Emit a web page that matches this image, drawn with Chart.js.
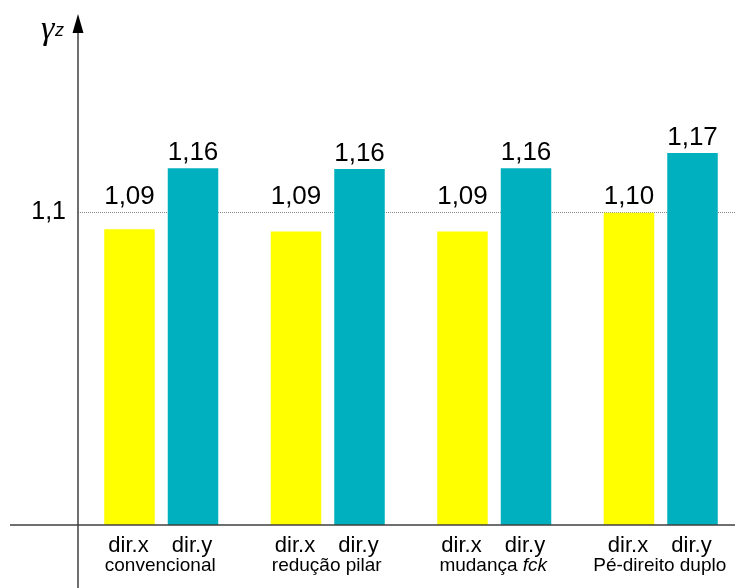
<!DOCTYPE html>
<html lang="pt-BR">
<head>
<meta charset="utf-8">
<title>gama z</title>
<script src="https://cdn.jsdelivr.net/npm/chart.js@4.4.1/dist/chart.umd.min.js"></script>
<style>
  html, body { margin: 0; padding: 0; background: #fff; overflow: hidden; }
  #wrap { width: 745px; height: 588px; }
</style>
</head>
<body>
<div id="wrap"><canvas id="grafico" width="745" height="588"></canvas></div>
<script>
const categorias = ['convencional', 'redução pilar', 'mudança', 'Pé-direito duplo'];
const categoriasItalico = ['', '', 'fck', ''];
const series = ['dir.x', 'dir.y'];
const valoresX = [1.079, 1.076, 1.076, 1.0995];
const valoresY = [1.155, 1.154, 1.155, 1.174];
const rotulosX = ['1,09', '1,09', '1,09', '1,10'];
const rotulosY = ['1,16', '1,16', '1,16', '1,17'];
const linhaRef = 1.1;
const rotuloRef = '1,1';

const FONTE = "'Liberation Sans', Arial, sans-serif";
const rotulos = [rotulosX, rotulosY];

// eixos com seta, rótulos das barras e das categorias
const desenhos = {
    id: 'desenhos',
    afterDatasetsDraw(chart) {
        const { ctx, chartArea, scales } = chart;
        const yRef = scales.y.getPixelForValue(linhaRef);
        const base = chartArea.bottom;
        const eixoX = chartArea.left;

        ctx.save();
        ctx.fillStyle = '#000';
        ctx.textBaseline = 'alphabetic';
        ctx.textAlign = 'center';

        chart.data.datasets.forEach((ds, i) => {
            chart.getDatasetMeta(i).data.forEach((bar, j) => {
                ctx.font = '26px ' + FONTE;
                ctx.fillText(rotulos[i][j], bar.x, Math.min(bar.y, yRef) - 8);
                ctx.font = '22px ' + FONTE;
                ctx.fillText(series[i], bar.x - 1, base + 27);
            });
        });

        // nomes das categorias (segunda linha)
        categorias.forEach((nome, j) => {
            const cx = scales.x.getPixelForValue(j) - 1;
            const ital = categoriasItalico[j];
            ctx.font = '19px ' + FONTE;
            const txt = ital ? nome + ' ' : nome;
            const w1 = ctx.measureText(txt).width;
            ctx.font = 'italic 19px ' + FONTE;
            const w2 = ital ? ctx.measureText(ital).width : 0;
            const x0 = cx - (w1 + w2) / 2;
            ctx.textAlign = 'left';
            ctx.font = '19px ' + FONTE;
            ctx.fillText(txt, x0, base + 46);
            if (ital) {
                ctx.font = 'italic 19px ' + FONTE;
                ctx.fillText(ital, x0 + w1, base + 46);
            }
        });

        // eixos
        ctx.strokeStyle = '#404040';
        ctx.lineWidth = 1.5;
        ctx.beginPath();
        ctx.moveTo(10, base);
        ctx.lineTo(chart.width, base);
        ctx.moveTo(eixoX, chartArea.top + 18);
        ctx.lineTo(eixoX, chart.height);
        ctx.stroke();

        ctx.fillStyle = '#000';
        ctx.beginPath();
        ctx.moveTo(eixoX, chartArea.top);
        ctx.lineTo(eixoX + 5.5, chartArea.top + 19);
        ctx.lineTo(eixoX - 5.5, chartArea.top + 19);
        ctx.closePath();
        ctx.fill();

        // gama z
        ctx.textAlign = 'left';
        ctx.font = "italic 34px 'Liberation Serif', serif";
        ctx.fillText('γ', 41, 39);
        ctx.font = 'italic 18px ' + FONTE;
        ctx.fillText('z', 55, 36);
        ctx.restore();
    }
};

const ctx = document.getElementById('grafico').getContext('2d');

new Chart(ctx, {
    type: 'bar',
    data: {
        labels: categorias.map((c, i) => categoriasItalico[i] ? c + ' ' + categoriasItalico[i] : c),
        datasets: [
            { label: series[0], data: valoresX, backgroundColor: '#FFFF00', barPercentage: 0.795, categoryPercentage: 0.763 },
            { label: series[1], data: valoresY, backgroundColor: '#00B0BE', barPercentage: 0.795, categoryPercentage: 0.763 }
        ]
    },
    options: {
        responsive: false,
        animation: false,
        layout: { padding: { top: 14, right: 1, left: 0, bottom: 0 } },
        plugins: {
            legend: { display: false },
            tooltip: { enabled: false }
        },
        scales: {
            x: {
                afterFit: s => {
                    s.height = 63;
                    s.paddingLeft = 0; s.paddingRight = 0;
                },
                ticks: { display: false },
                grid: { display: false },
                border: { display: false }
            },
            y: {
                min: 0.71,
                max: 1.3473,
                afterBuildTicks: s => { s.ticks = [{ value: linhaRef }]; },
                afterFit: s => {
                    s.width = 78;
                    s.paddingTop = 0; s.paddingBottom = 0;
                },
                ticks: {
                    callback: () => rotuloRef,
                    color: '#000',
                    padding: 12,
                    font: { size: 25, family: FONTE }
                },
                grid: { color: '#8a8a8a', lineWidth: 1, drawTicks: false },
                border: { display: false, dash: [1, 1] }
            }
        }
    },
    plugins: [desenhos]
});
</script>
</body>
</html>
